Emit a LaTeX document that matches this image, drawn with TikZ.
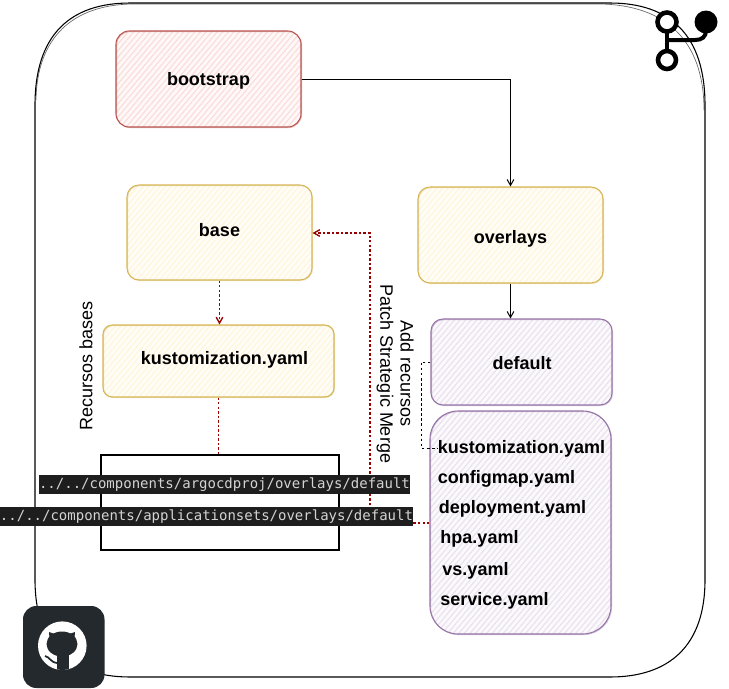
\documentclass[tikz,border=0pt]{standalone}
\usepackage{fontspec}
\setmainfont{Liberation Sans}
\newfontfamily\codefont{DejaVu Sans Mono}
\usetikzlibrary{patterns.meta,arrows.meta}
\definecolor{ylS}{HTML}{D6B656}\definecolor{ylF}{HTML}{FFF2CC}
\definecolor{rdS}{HTML}{B85450}\definecolor{rdF}{HTML}{F8CECC}
\definecolor{puS}{HTML}{9673A6}\definecolor{puF}{HTML}{E1D5E7}
\definecolor{ghub}{HTML}{24292E}\definecolor{codebg}{HTML}{1E1E1E}\definecolor{codefg}{HTML}{D4D4D4}
\definecolor{linkred}{HTML}{990000}
\tikzset{
  x=.75pt,y=-.75pt,
  sz/.style 2 args={minimum width=#1*.75pt,minimum height=#2*.75pt},
  sketch/.style 2 args={draw=#1,line width=.8pt,inner sep=0pt,
    preaction={fill=#2,fill opacity=.12},
    preaction={pattern={Lines[angle=50,distance=3.2pt,line width=.9pt]},pattern color=#2!70!white},
    postaction={draw=#1,draw opacity=.4,line width=.6pt,transform canvas={shift={(.5pt,-.5pt)}}}},
  redbox/.style={sketch={rdS}{rdF},rounded corners=10pt},
  yelbox/.style={sketch={ylS}{ylF},rounded corners=9pt},
  purbox/.style={sketch={puS}{puF},rounded corners=9pt},
  title/.style={font=\fontsize{13.5pt}{16pt}\selectfont\bfseries,text=black,inner sep=0pt},
  side/.style={font=\fontsize{13.5pt}{16pt}\selectfont,text=black,inner sep=0pt},
  code/.style={font=\codefont\fontsize{10.5pt}{12pt}\selectfont,fill=codebg,text=codefg,inner sep=0pt,
    minimum height=14.25pt},
  link/.style={line width=.75pt,-{Straight Barb[length=4.5pt,width=5pt]}},
  redlink/.style={draw=linkred,line width=1pt,dash pattern=on 1.8pt off 1.6pt},
  iconline/.style={draw=black,line width=3pt},
}
\begin{document}
\begin{tikzpicture}
\useasboundingbox (0,0) rectangle (729,689);
\fill[white] (0,0) rectangle (729,689);
% frame
\draw[line width=.8pt] (35,105) .. controls (35,35) and (70,3) .. (130,3) -- (610,3)
  .. controls (670,3) and (705,35) .. (705,105) -- (705,580)
  .. controls (705,645) and (670,677) .. (610,677) -- (130,677)
  .. controls (70,677) and (35,645) .. (35,580) -- cycle;
\draw[line width=.5pt,opacity=.6] (36,100) .. controls (37,38) and (72,5) .. (132,4) -- (600,4)
  .. controls (665,5) and (704,40) .. (704,110);
% boxes
\node[redbox,sz={185}{96}] (bootstrap) at (208.5,79) {};
\node[yelbox,sz={185}{95}] (base) at (219.5,232.5) {};
\node[yelbox,sz={185}{96}] (overlays) at (510.5,235) {};
\node[yelbox,sz={231}{72},rounded corners=7pt] (kust) at (218.5,361) {};
\node[purbox,sz={181}{86}] (default) at (521.5,362) {};
\node[purbox,sz={181}{223},rounded corners=21pt] (files) at (520.5,522.5) {};
\node[draw=black,line width=.9pt,sz={238}{95},inner sep=0pt] (list) at (220,502.5) {};
% titles
\node[title] (tboot) at (208.5,80.5) {bootstrap};
\node[title] (tbase) at (219.5,230.5) {base};
\node[title] (tover) at (510.5,238.5) {overlays};
\node[title] (tkust) at (224.5,359.5) {kustomization.yaml};
\node[title] (tdef) at (522,363.5) {default};
\node[title] (f1) at (521.5,448.5) {kustomization.yaml};
\node[title] (f2) at (506.5,478.5) {configmap.yaml};
\node[title] (f3) at (512.5,508.5) {deployment.yaml};
\node[title] (f4) at (479.5,538.5) {hpa.yaml};
\node[title] (f5) at (475.5,570.5) {vs.yaml};
\node[title] (f6) at (494.5,600.5) {service.yaml};
% connectors
\coordinate (bendA) at (510.5,79);
\draw[link] (bootstrap.east |- bendA) -- (bendA) -- (overlays.north -| bendA);
\draw[link] (overlays.south) -- (default.north -| overlays.south);
\draw[redlink,-{Straight Barb[length=4.5pt,width=5pt]}] (base.south) -- (kust.north -| base.south);
\draw[redlink] (kust.south) -- (list.north -| kust.south);
\coordinate (bendB) at (370,233);
\coordinate (bendC) at (370,523);
\draw[redlink,-{Straight Barb[length=4.5pt,width=5pt]}] (files.west |- bendC) -- (bendC) -- (bendB) -- (base.east |- bendB);
\coordinate (bendD) at (421,362);
\coordinate (bendE) at (421,448);
\draw[line width=.75pt,dash pattern=on 2pt off 1.8pt] (default.west) -- (bendD) -- (bendE) -- (f1.west |- bendE);
% code labels
\node[code] (c1) at (224.5,484.5) {../../components/argocdproj/overlays/default};
\node[code] (c2) at (206.5,516.5) {../../components/applicationsets/overlays/default};
% side labels
\node[side,rotate=90] (s1) at (86,366) {Recursos bases};
\node[side,rotate=-90] (s2) at (385,374) {Patch Strategic Merge};
\node[side,rotate=-90] (s3) at (407,374) {Add recursos};
% git icon
\draw[iconline] (667,30) -- (667,52);
\draw[iconline] (667,40) -- (695,40) .. controls (702,40) and (706,37) .. (706,30);
\draw[line width=3.4pt,fill=white] (667,22) circle (9.5);
\draw[line width=3.4pt,fill=white] (667,60) circle (9);
\fill[black] (706,22) circle (11.5);
% github icon
\fill[ghub,rounded corners=10pt] (23,606) rectangle (104.5,688);
\fill[white] (62.3,645.7) circle (24.3);
\begin{scope}
\clip (62.3,645.7) circle (24.3);
\fill[ghub] (62,644) ellipse (15.5 and 12.5);
\fill[ghub] (49,632) -- (50,644) -- (58,635) -- cycle;
\fill[ghub] (75,632) -- (74,644) -- (66,635) -- cycle;
\fill[ghub] (56.5,650) rectangle (69,672);
\draw[ghub,line width=1.3pt] (45,656) .. controls (50,657) and (50,662) .. (57,663);
\end{scope}
\end{tikzpicture}
\end{document}
